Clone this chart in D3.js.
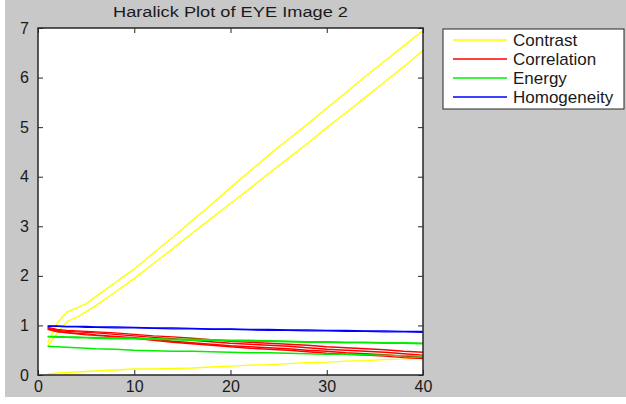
<!DOCTYPE html>
<html>
<head>
<meta charset="utf-8">
<script src="https://cdn.jsdelivr.net/npm/d3@7"></script>
<style>
  html, body { margin: 0; padding: 0; background: #ffffff; }
  svg { display: block; font-family: "Liberation Sans", Arial, sans-serif; }
</style>
</head>
<body>
<div id="chart"></div>
<script>
const kWidth = 626;
const kHeight = 404;
const kPlot = { left: 38, top: 28, right: 423, bottom: 375 };

// distance values shared by every series
const xVals = [1, 2, 3, 4, 5, 6, 8, 10, 12, 14, 16, 18, 20, 22, 24, 26, 28, 30, 32, 34, 36, 38, 40];

const contrastA = [0.65, 1.05, 1.27, 1.35, 1.44, 1.58, 1.86, 2.14, 2.46, 2.78, 3.11, 3.44, 3.78, 4.11, 4.44, 4.75, 5.06, 5.38, 5.70, 6.02, 6.33, 6.64, 6.95];
const contrastB = [0.58, 0.85, 1.08, 1.16, 1.28, 1.40, 1.67, 1.95, 2.25, 2.55, 2.86, 3.16, 3.46, 3.76, 4.07, 4.37, 4.67, 4.99, 5.29, 5.60, 5.91, 6.22, 6.55];
const contrastC = [0.02, 0.04, 0.05, 0.06, 0.07, 0.08, 0.10, 0.12, 0.12, 0.13, 0.14, 0.16, 0.18, 0.20, 0.21, 0.23, 0.25, 0.26, 0.28, 0.29, 0.31, 0.32, 0.34];

const correlationA = [0.96, 0.92, 0.90, 0.89, 0.88, 0.87, 0.85, 0.82, 0.79, 0.77, 0.74, 0.71, 0.68, 0.66, 0.64, 0.62, 0.60, 0.57, 0.55, 0.53, 0.51, 0.48, 0.46];
const correlationB = [0.95, 0.90, 0.88, 0.87, 0.86, 0.85, 0.82, 0.79, 0.76, 0.73, 0.70, 0.67, 0.64, 0.62, 0.60, 0.58, 0.55, 0.52, 0.50, 0.48, 0.46, 0.43, 0.40];
const correlationC = [0.93, 0.88, 0.86, 0.84, 0.83, 0.81, 0.78, 0.75, 0.72, 0.68, 0.65, 0.62, 0.59, 0.57, 0.55, 0.53, 0.50, 0.48, 0.45, 0.43, 0.41, 0.38, 0.36];
const correlationD = [0.92, 0.87, 0.85, 0.83, 0.81, 0.80, 0.77, 0.74, 0.70, 0.66, 0.63, 0.60, 0.57, 0.54, 0.52, 0.50, 0.47, 0.44, 0.42, 0.40, 0.38, 0.35, 0.33];

const energyA = [0.78, 0.78, 0.77, 0.77, 0.76, 0.76, 0.75, 0.74, 0.73, 0.72, 0.72, 0.71, 0.70, 0.70, 0.69, 0.68, 0.67, 0.67, 0.66, 0.66, 0.65, 0.65, 0.64];
const energyB = [0.77, 0.76, 0.76, 0.75, 0.75, 0.74, 0.73, 0.73, 0.72, 0.71, 0.70, 0.70, 0.69, 0.68, 0.68, 0.67, 0.66, 0.66, 0.65, 0.65, 0.64, 0.64, 0.63];
const energyC = [0.58, 0.57, 0.56, 0.55, 0.54, 0.53, 0.52, 0.50, 0.49, 0.48, 0.48, 0.47, 0.46, 0.45, 0.45, 0.44, 0.43, 0.42, 0.42, 0.41, 0.40, 0.39, 0.38];

const homogeneityA = [0.99, 0.99, 0.98, 0.98, 0.98, 0.97, 0.97, 0.96, 0.95, 0.95, 0.94, 0.93, 0.93, 0.92, 0.92, 0.91, 0.91, 0.90, 0.90, 0.89, 0.89, 0.88, 0.88];
const homogeneityB = [0.98, 0.98, 0.97, 0.97, 0.96, 0.96, 0.95, 0.95, 0.94, 0.93, 0.93, 0.92, 0.92, 0.91, 0.90, 0.90, 0.89, 0.89, 0.88, 0.88, 0.87, 0.87, 0.86];

const legendNames = ["Contrast", "Correlation", "Energy", "Homogeneity"];
const legendColors = ["#ffff00", "#ff0000", "#00ee00", "#0000ff"];
const xTicks = [0, 10, 20, 30, 40];
const yTicks = [0, 1, 2, 3, 4, 5, 6, 7];

const seriesList = [
  { values: contrastA, color: legendColors[0] },
  { values: contrastB, color: legendColors[0] },
  { values: contrastC, color: legendColors[0] },
  { values: correlationA, color: legendColors[1] },
  { values: correlationB, color: legendColors[1] },
  { values: correlationC, color: legendColors[1] },
  { values: correlationD, color: legendColors[1] },
  { values: energyA, color: legendColors[2] },
  { values: energyB, color: legendColors[2] },
  { values: energyC, color: legendColors[2] },
  { values: homogeneityA, color: legendColors[3] },
  { values: homogeneityB, color: legendColors[3] }
];

const svg = d3.select("#chart")
  .append("svg")
  .attr("width", kWidth)
  .attr("height", kHeight);

// figure background (grey, with the thin white margin of the screenshot)
svg.append("rect")
  .attr("x", 5).attr("y", 0)
  .attr("width", kWidth - 5).attr("height", 397)
  .attr("fill", "#c8c8c8");

svg.append("rect")
  .attr("x", kPlot.left).attr("y", kPlot.top)
  .attr("width", kPlot.right - kPlot.left)
  .attr("height", kPlot.bottom - kPlot.top)
  .attr("fill", "#ffffff");

const xScale = d3.scaleLinear().domain([0, 40]).range([kPlot.left, kPlot.right]);
const yScale = d3.scaleLinear().domain([0, 7]).range([kPlot.bottom, kPlot.top]);

const line = d3.line()
  .x((d, i) => xScale(xVals[i]))
  .y(d => yScale(d));

svg.append("g")
  .selectAll("path")
  .data(seriesList)
  .enter()
  .append("path")
  .attr("d", d => line(d.values))
  .attr("fill", "none")
  .attr("stroke", d => d.color)
  .attr("stroke-width", 1.4);

// axes: ticks pointing inward on all four sides
const axisColor = "#262626";

function styleAxis(g) {
  g.select(".domain").remove();
  g.selectAll(".tick line").attr("stroke", axisColor);
  g.selectAll(".tick text")
    .attr("fill", "#1a1a1a")
    .style("font-size", "16px")
    .style("font-family", "'Liberation Sans', Arial, sans-serif");
}

svg.append("g")
  .attr("transform", `translate(0, ${kPlot.bottom})`)
  .call(d3.axisBottom(xScale).tickValues(xTicks).tickFormat(d3.format("d"))
    .tickSizeInner(-5).tickSizeOuter(0).tickPadding(6))
  .call(styleAxis);

svg.append("g")
  .attr("transform", `translate(${kPlot.left}, 0)`)
  .call(d3.axisLeft(yScale).tickValues(yTicks).tickFormat(d3.format("d"))
    .tickSizeInner(-5).tickSizeOuter(0).tickPadding(9))
  .call(styleAxis);

svg.append("g")
  .attr("transform", `translate(0, ${kPlot.top})`)
  .call(d3.axisTop(xScale).tickValues(xTicks).tickSizeInner(-5).tickSizeOuter(0).tickFormat(""))
  .call(styleAxis);

svg.append("g")
  .attr("transform", `translate(${kPlot.right}, 0)`)
  .call(d3.axisRight(yScale).tickValues(yTicks).tickSizeInner(-5).tickSizeOuter(0).tickFormat(""))
  .call(styleAxis);

svg.append("rect")
  .attr("x", kPlot.left).attr("y", kPlot.top)
  .attr("width", kPlot.right - kPlot.left)
  .attr("height", kPlot.bottom - kPlot.top)
  .attr("fill", "none")
  .attr("stroke", axisColor)
  .attr("stroke-width", 1.5);

svg.append("text")
  .attr("x", (kPlot.left + kPlot.right) / 2)
  .attr("y", 17)
  .attr("text-anchor", "middle")
  .attr("textLength", 235)
  .attr("lengthAdjust", "spacingAndGlyphs")
  .attr("fill", "#1a1a1a")
  .style("font-size", "14px")
  .text("Haralick Plot of EYE Image 2");

// legend
const legend = svg.append("g").attr("transform", "translate(443, 29)");

legend.append("rect")
  .attr("width", 181)
  .attr("height", 80)
  .attr("fill", "#ffffff")
  .attr("stroke", axisColor)
  .attr("stroke-width", 1);

const rows = legend.selectAll("g.row")
  .data(legendNames)
  .enter()
  .append("g")
  .attr("class", "row")
  .attr("transform", (d, i) => `translate(0, ${11 + i * 19})`);

rows.append("line")
  .attr("x1", 10).attr("x2", 64)
  .attr("stroke", (d, i) => legendColors[i])
  .attr("stroke-width", 1.4);

rows.append("text")
  .attr("x", 70)
  .attr("dy", "0.36em")
  .attr("fill", "#1a1a1a")
  .style("font-size", "17px")
  .text(d => d);
</script>
</body>
</html>
